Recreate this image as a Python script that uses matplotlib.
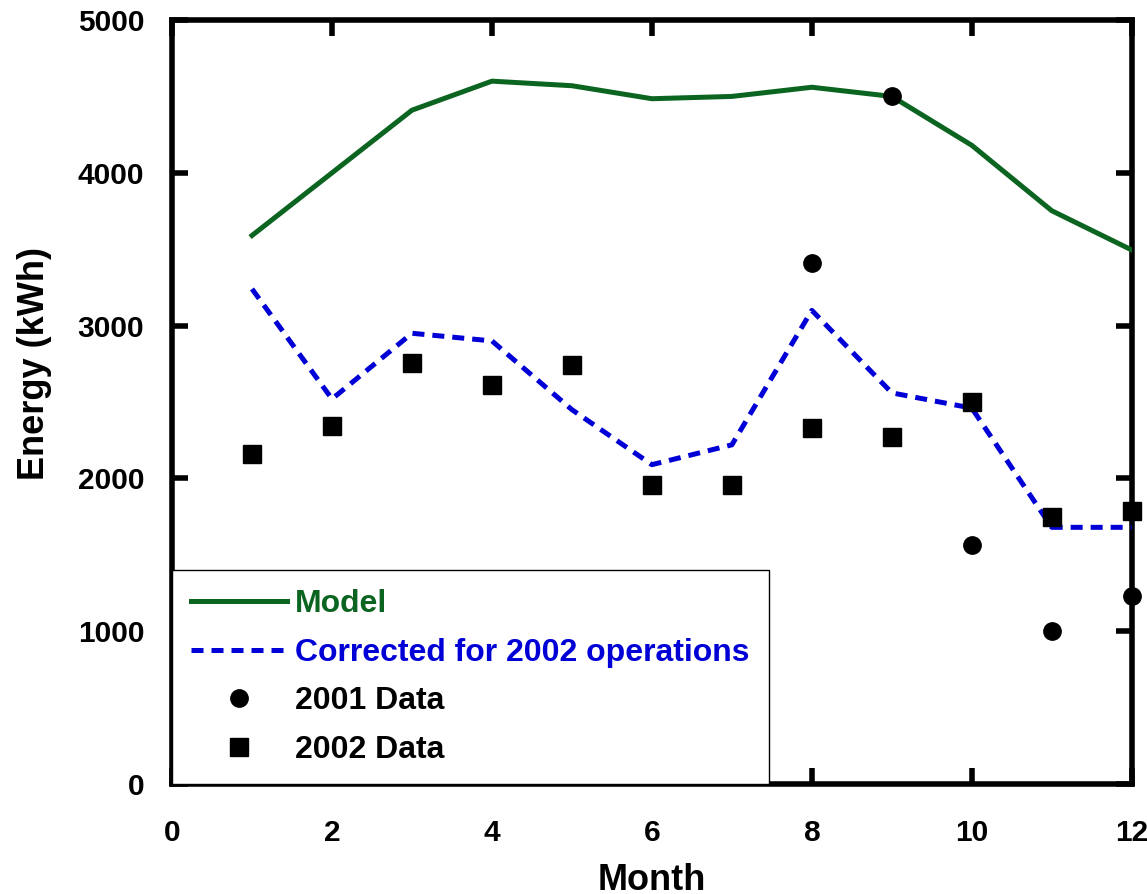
import matplotlib
matplotlib.use('Agg')
import matplotlib.pyplot as plt

plt.rcParams['font.family'] = ['Liberation Sans', 'DejaVu Sans']
plt.rcParams['font.weight'] = 'bold'

# Datos
meses = [1, 2, 3, 4, 5, 6, 7, 8, 9, 10, 11, 12]
modelo = [3590, 4000, 4410, 4600, 4570, 4485, 4500, 4560, 4500, 4180, 3752, 3495]
corregido = [3240, 2520, 2950, 2900, 2450, 2090, 2220, 3100, 2560, 2460, 1680, 1680]

meses_2001 = [8, 9, 10, 11, 12]
datos_2001 = [3410, 4500, 1565, 1000, 1230]

datos_2002 = [2160, 2345, 2755, 2610, 2740, 1960, 1960, 2330, 2270, 2500, 1745, 1790]

verde = '#0b6420'
azul = '#0000d6'

fig = plt.figure(figsize=(11.47, 8.94), dpi=100)
ax = fig.add_axes([0.15, 0.123, 0.8367, 0.8546])

ax.plot(meses, modelo, color=verde, lw=3.6, label='Model', zorder=3)
ax.plot(meses, corregido, color=azul, lw=3.6, dashes=(2.4, 1.6),
        label='Corrected for 2002 operations', zorder=3)
ax.plot(meses_2001, datos_2001, 'o', color='black', ms=12.5,
        label='2001 Data', clip_on=False, zorder=6)
ax.plot(meses, datos_2002, 's', color='black', ms=12.5,
        label='2002 Data', clip_on=False, zorder=6)

ax.set_xlim(0, 12)
ax.set_ylim(0, 5000)
ax.set_xticks(range(0, 13, 2))
ax.set_yticks(range(0, 5001, 1000))

for s in ax.spines.values():
    s.set_linewidth(4)
ax.tick_params(direction='in', length=11.5, width=4, labelsize=21.5,
               top=True, right=True)
ax.tick_params(axis='x', pad=25)
ax.tick_params(axis='y', pad=20)

ax.set_xlabel('Month', fontsize=26, fontweight='bold')
ax.set_ylabel('Energy (kWh)', fontsize=26, fontweight='bold')
ax.xaxis.set_label_coords(0.5, -0.103)
ax.yaxis.set_label_coords(-0.125, 0.55)

leg = ax.legend(loc='lower left', bbox_to_anchor=(0, 0), borderaxespad=0,
                fontsize=23, frameon=True, fancybox=False, framealpha=1,
                edgecolor='black', handlelength=3.0, handletextpad=0.25,
                labelspacing=0.58, borderpad=0.6, numpoints=1)
leg.get_frame().set_linewidth(1)
leg.set_zorder(5)
for texto, color in zip(leg.get_texts(), [verde, azul, 'black', 'black']):
    texto.set_color(color)

plt.savefig('out.png', dpi=100)
